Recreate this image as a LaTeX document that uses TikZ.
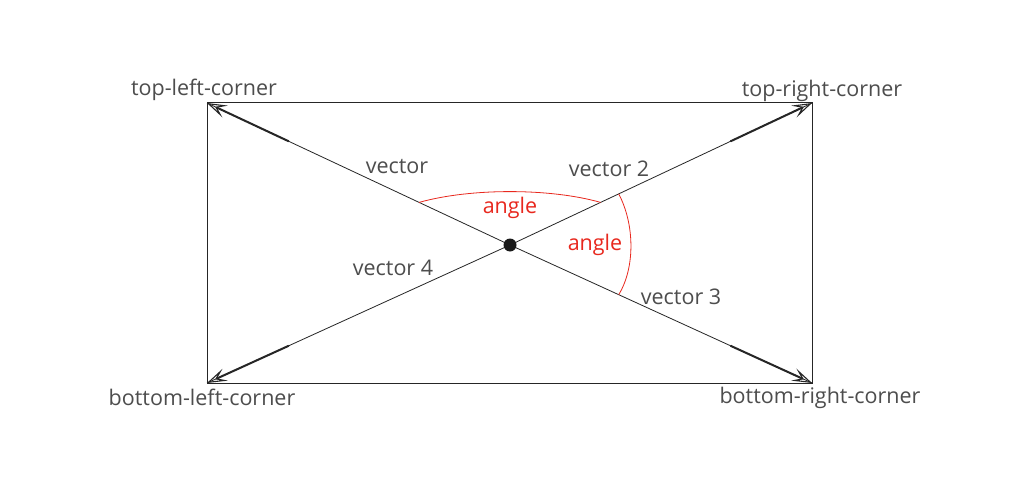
\documentclass[tikz,border=0pt]{standalone}
\usepackage{fontspec}
\setmainfont{Open Sans}
\usetikzlibrary{arrows.meta,calc}
\definecolor{txt}{HTML}{4D4D4D}
\definecolor{ang}{HTML}{E8281E}
\tikzset{
  lbl/.style={text=txt,font=\fontsize{21.5}{24}\selectfont,inner sep=0pt},
  albl/.style={text=ang,font=\fontsize{21.5}{24}\selectfont,inner sep=0pt},
  vec/.style={draw=black!85,line width=0.8pt},
  vecthick/.style={draw=black!85,line width=2pt,-{Stealth[open,length=20pt,width=13pt,inset=9pt,line width=1.1pt]}},
  arcline/.style={draw=ang,line width=0.8pt},
}
\begin{document}
\begin{tikzpicture}[x=1pt,y=-1pt]
\useasboundingbox (0,0) rectangle (1024,500);
\fill[white] (0,0) rectangle (1024,500);
\coordinate (tl) at (207,103);
\coordinate (tr) at (812,103);
\coordinate (br) at (812,383);
\coordinate (bl) at (207,383);
\coordinate (c) at (510,245);
\draw[black!85,line width=1pt] (tl) -- (tr) -- (br) -- (bl) -- cycle;
% thin diagonals
\draw[vec] (c) -- (tl);
\draw[vec] (c) -- (tr);
\draw[vec] (c) -- (br);
\draw[vec] (c) -- (bl);
% thick end parts with arrowheads
\draw[vecthick] ($(c)!0.73!(tl)$) -- (tl);
\draw[vecthick] ($(c)!0.73!(tr)$) -- (tr);
\draw[vecthick] ($(c)!0.73!(br)$) -- (br);
\draw[vecthick] ($(c)!0.73!(bl)$) -- (bl);
\fill[black!90] (c) circle (6.5pt);
% angle arcs
\coordinate (a1) at ($(c)!0.30!(tl)$);
\coordinate (a2) at ($(c)!0.30!(tr)$);
\coordinate (a3) at ($(c)!0.36!(tr)$);
\coordinate (a4) at ($(c)!0.36!(br)$);
\draw[arcline] (a1) .. controls (470,188) and (550,188) .. (a2);
\draw[arcline] (a3) .. controls (635,225) and (635,268) .. (a4);
% labels
\node[lbl] (ltl) at (204,90) {top-left-corner};
\node[lbl] (ltr) at (822,91) {top-right-corner};
\node[lbl] (lbl) at (202,397) {bottom-left-corner};
\node[lbl] (lbr) at (820,398) {bottom-right-corner};
\node[lbl] (v1) at (397,167) {vector};
\node[lbl] (v2) at (609,169) {vector 2};
\node[lbl] (v3) at (681,297) {vector 3};
\node[lbl] (v4) at (393,268) {vector 4};
\node[albl] (an1) at (510,208) {angle};
\node[albl] (an2) at (595,245) {angle};
\end{tikzpicture}
\end{document}
